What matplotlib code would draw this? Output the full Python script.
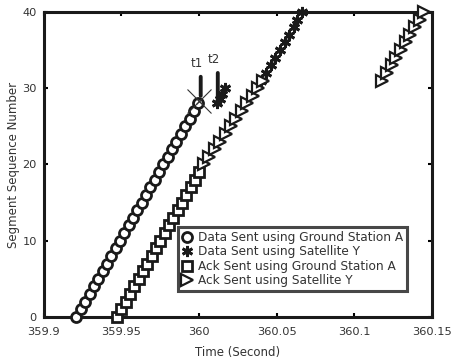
import matplotlib
matplotlib.use("Agg")
import matplotlib.pyplot as plt

plt.rcParams['font.family'] = ['DejaVu Sans']

# Data Sent using Ground Station A (circles)
gs_data_t = [359.921, 359.9238, 359.9266, 359.9294, 359.9322, 359.935, 359.9378, 359.9406,
             359.9434, 359.9462, 359.949, 359.9518, 359.9546, 359.9574, 359.9602, 359.963,
             359.9658, 359.9686, 359.9714, 359.9742, 359.977, 359.9798, 359.9826, 359.9854,
             359.9882, 359.991, 359.9938, 359.9966, 359.9994]
gs_data_seq = [0, 1, 2, 3, 4, 5, 6, 7, 8, 9, 10, 11, 12, 13, 14, 15, 16, 17, 18, 19,
               20, 21, 22, 23, 24, 25, 26, 27, 28]

# Data Sent using Satellite Y (asterisks)
sat_data_t = [360.0115, 360.0135, 360.0150, 360.0165, 360.040, 360.043, 360.046, 360.049,
              360.052, 360.055, 360.058, 360.061, 360.063, 360.066]
sat_data_seq = [28, 28.6, 29.3, 30, 31, 32, 33, 34, 35, 36, 37, 38, 39, 40]

# Ack Sent using Ground Station A (squares)
gs_ack_t = [359.947, 359.9498, 359.9526, 359.9554, 359.9582, 359.961, 359.9638, 359.9666,
            359.9694, 359.9722, 359.975, 359.9778, 359.9806, 359.9834, 359.9862, 359.989,
            359.9918, 359.9946, 359.9974, 360.0002]
gs_ack_seq = [0, 1, 2, 3, 4, 5, 6, 7, 8, 9, 10, 11, 12, 13, 14, 15, 16, 17, 18, 19]

# Ack Sent using Satellite Y (triangles)
sat_ack_t = [360.003, 360.0065, 360.010, 360.0135, 360.017, 360.0205, 360.024, 360.0275,
             360.031, 360.0345, 360.038, 360.041,
             360.118, 360.121, 360.124, 360.127, 360.130, 360.133, 360.136, 360.139,
             360.142, 360.145]
sat_ack_seq = [20, 21, 22, 23, 24, 25, 26, 27, 28, 29, 30, 31,
               31, 32, 33, 34, 35, 36, 37, 38, 39, 40]

# Event markers
event_labels = ['t1', 't2']
event_t = [360.001, 360.012]
event_top = [31.5, 32.0]
event_bottom = [29.0, 28.2]
cross_t = [360.0]
cross_seq = [28.3]

x_ticks = [359.9, 359.95, 360.0, 360.05, 360.1, 360.15]
x_ticklabels = ['359.9', '359.95', '360', '360.05', '360.1', '360.15']
y_ticks = [0, 10, 20, 30, 40]

fig = plt.figure(figsize=(4.52, 3.63), dpi=100)
ax = fig.add_axes([0.097, 0.127, 0.859, 0.84])

ink = '#1a1a1a'
txt = '#333333'
ax.plot(gs_data_t, gs_data_seq, linestyle='none', marker='o', ms=7.2, mfc='white',
        mec=ink, mew=2.0, clip_on=False, label='Data Sent using Ground Station A', zorder=3)
ax.plot(sat_data_t, sat_data_seq, linestyle='none', marker=(6, 2, 0), ms=8, mfc='none',
        mec=ink, mew=2.0, clip_on=False, label='Data Sent using Satellite Y', zorder=3)
ax.plot(gs_ack_t, gs_ack_seq, linestyle='none', marker='s', ms=6.6, mfc='white',
        mec=ink, mew=2.0, clip_on=False, label='Ack Sent using Ground Station A', zorder=3)
ax.plot(sat_ack_t, sat_ack_seq, linestyle='none', marker='>', ms=8.5, mfc='white',
        mec=ink, mew=1.6, clip_on=False, label='Ack Sent using Satellite Y', zorder=3)

ax.plot(cross_t, cross_seq, linestyle='none', marker='x', ms=17, mec='#333333', mew=0.8, zorder=4)
ax.plot(cross_t, cross_seq, linestyle='none', marker='x', ms=4, mec='#333333', mew=0.8, zorder=5)

for lab, t, top, bot in zip(event_labels, event_t, event_top, event_bottom):
    ax.annotate('', xy=(t, bot), xytext=(t, top),
                arrowprops=dict(arrowstyle='-', lw=2.8, color=ink, shrinkA=0, shrinkB=0))
    ax.text(t - 0.0025, top + 0.9, lab, ha='center', va='bottom', fontsize=8.5, color=txt)

ax.set_xlim(359.9, 360.15)
ax.set_ylim(0, 40)
ax.set_xticks(x_ticks)
ax.set_xticklabels(x_ticklabels)
ax.set_yticks(y_ticks)
ax.tick_params(direction='in', length=3, width=1.5, top=True, right=True,
               labelsize=8.2, labelcolor=txt)
ax.tick_params(axis='x', pad=7)
ax.tick_params(axis='y', pad=5)
for s in ax.spines.values():
    s.set_linewidth(2.2)
    s.set_color(ink)

ax.set_xlabel('Time (Second)', fontsize=8.5, color=txt, labelpad=7)
ax.set_ylabel('Segment Sequence Number', fontsize=8.5, color=txt, labelpad=2)

leg = ax.legend(loc='lower left', bbox_to_anchor=(0.345, 0.085), fontsize=8.7,
                frameon=True, fancybox=False, edgecolor=ink, borderpad=0.3,
                labelspacing=0.12, handlelength=1.0, handletextpad=0.4, borderaxespad=0)
leg.get_frame().set_linewidth(2.2)
for t in leg.get_texts():
    t.set_color(txt)

fig.savefig('out.png', dpi=100)
